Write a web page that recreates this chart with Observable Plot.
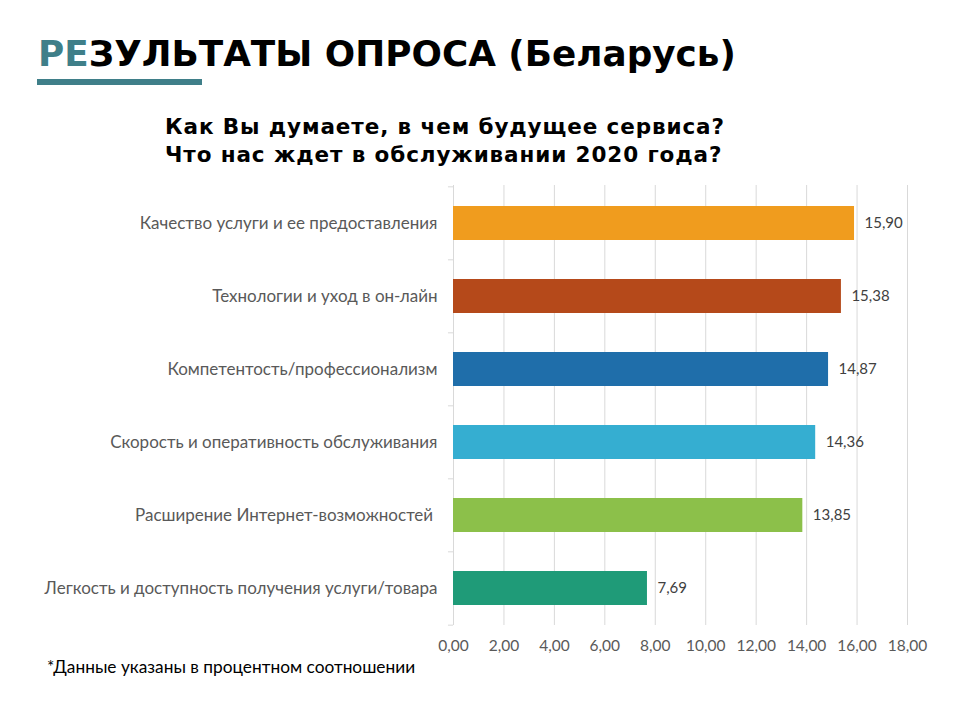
<!DOCTYPE html>
<html>
<head>
<meta charset="utf-8">
<script src="https://cdn.jsdelivr.net/npm/d3@7"></script>
<script src="https://cdn.jsdelivr.net/npm/@observablehq/plot@0.6"></script>
<style>
  html, body { margin: 0; padding: 0; background: #fff; }
  #page { position: relative; width: 960px; height: 720px; overflow: hidden; }
  #title { position: absolute; left: 38px; top: 33px; font-family: "DejaVu Sans", sans-serif; font-weight: bold; font-size: 35.8px; line-height: 42px; color: #000; white-space: nowrap; }
  #title .acc { color: #3f7f89; }
  #bar { position: absolute; left: 37px; top: 79px; width: 165px; height: 6px; background: #3f7f89; }
  #subtitle { position: absolute; left: 165px; top: 113px; font-family: "DejaVu Sans", sans-serif; font-weight: bold; font-size: 21.5px; line-height: 28px; letter-spacing: 0.9px; color: #000; white-space: nowrap; }
  #chart { position: absolute; left: 0; top: 175px; }
  #note { position: absolute; left: 47px; top: 656px; font-family: Lato, "Open Sans", sans-serif; font-size: 17.3px; color: #000; white-space: nowrap; }
</style>
</head>
<body>
<div id="page">
  <div id="title"><span class="acc">РЕ</span>ЗУЛЬТАТЫ ОПРОСА (Беларусь)</div>
  <div id="bar"></div>
  <div id="subtitle">Как Вы думаете, в чем будущее сервиса?<br>Что нас ждет в обслуживании 2020 года?</div>
  <div id="chart"></div>
  <div id="note">*Данные указаны в процентном соотношении</div>
</div>
<script>
const categories = [
  "Качество услуги и ее предоставления",
  "Технологии и уход в он-лайн",
  "Компетентость/профессионализм",
  "Скорость и оперативность обслуживания",
  "Расширение Интернет-возможностей ",
  "Легкость и доступность получения услуги/товара"
];
const values = [15.90, 15.38, 14.87, 14.36, 13.85, 7.69];
const xTicks = [0, 2, 4, 6, 8, 10, 12, 14, 16, 18];
const palette = ["#f09c1e", "#b5491a", "#1f6eaa", "#35aed1", "#8cc04a", "#1f9b78"];

const data = categories.map((c, i) => ({label: c, value: values[i]}));
const fmt = v => v.toFixed(2).replace(".", ",");

const H = 500, mTop = 10, mBottom = 50;
const step = (H - mTop - mBottom) / categories.length;

const chart = Plot.plot({
  width: 960,
  height: H,
  marginTop: mTop,
  marginBottom: mBottom,
  marginLeft: 453,
  marginRight: 53,
  style: {fontFamily: "Lato, 'Open Sans', sans-serif", background: "#fff"},
  x: {domain: [0, 18], ticks: xTicks, tickFormat: fmt, label: null},
  y: {domain: categories, paddingInner: 0.54, paddingOuter: 0.27, label: null},
  color: {domain: categories, range: palette},
  marks: [
    Plot.gridX(xTicks, {stroke: "#d9d9d9", strokeOpacity: 1}),
    Plot.ruleX([0], {stroke: "#d9d9d9"}),
    Plot.ruleY(categories, {y: d => d, x1: -0.2, x2: 0, dy: -step / 2, stroke: "#d9d9d9"}),
    Plot.ruleY([categories[categories.length - 1]], {y: d => d, x1: -0.2, x2: 0, dy: step / 2, stroke: "#d9d9d9"}),
    Plot.barX(data, {x: "value", y: "label", fill: "label"}),
    Plot.text(data, {x: "value", y: "label", text: d => fmt(d.value), dx: 10, textAnchor: "start", fill: "#404040", fontSize: 15}),
    Plot.axisX({ticks: xTicks, tickFormat: fmt, tickSize: 0, tickPadding: 14, fontSize: 15.5, color: "#595959", anchor: "bottom", label: null}),
    Plot.axisY({tickSize: 0, tickPadding: 16, fontSize: 17, color: "#595959", label: null})
  ]
});
document.getElementById("chart").appendChild(chart);
</script>
</body>
</html>
